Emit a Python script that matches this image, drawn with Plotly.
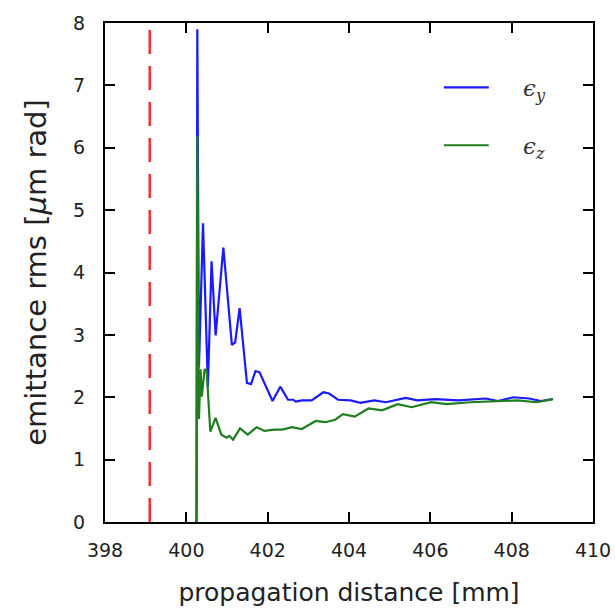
import plotly.graph_objects as go

# epsilon_y (blue)
ey_x = [400.25, 400.27, 400.31, 400.41, 400.53, 400.62, 400.72, 400.91, 401.12, 401.20, 401.31,
        401.49, 401.59, 401.70, 401.80, 402.12, 402.31, 402.50, 402.63, 402.69, 402.84, 403.08,
        403.37, 403.51, 403.73, 404.04, 404.28, 404.62, 404.91, 405.39, 405.68, 406.12, 406.69,
        407.37, 407.66, 408.04, 408.43, 408.72, 409.01]
ey_y = [0.0, 7.9, 2.48, 4.79, 2.17, 4.18, 2.99, 4.40, 2.84, 2.88, 3.43,
        2.23, 2.21, 2.42, 2.40, 1.94, 2.17, 1.96, 1.96, 1.93, 1.95, 1.95,
        2.08, 2.06, 1.96, 1.95, 1.91, 1.95, 1.92, 1.99, 1.95, 1.97, 1.95,
        1.98, 1.94, 2.00, 1.98, 1.94, 1.97]

# epsilon_z (green)
ez_x = [400.25, 400.27, 400.31, 400.35, 400.38, 400.45, 400.50, 400.59, 400.72, 400.86, 400.99,
        401.06, 401.15, 401.32, 401.51, 401.73, 401.92, 402.16, 402.36, 402.60, 402.84, 403.18,
        403.42, 403.66, 403.85, 404.14, 404.48, 404.81, 405.20, 405.54, 406.02, 406.40, 406.98,
        407.56, 408.14, 408.62, 409.01]
ez_y = [0.0, 6.19, 1.65, 2.45, 2.01, 2.45, 2.42, 1.45, 1.67, 1.40, 1.35,
        1.38, 1.32, 1.50, 1.40, 1.52, 1.46, 1.48, 1.48, 1.52, 1.49, 1.62,
        1.60, 1.64, 1.73, 1.69, 1.82, 1.79, 1.89, 1.84, 1.92, 1.89, 1.92,
        1.94, 1.95, 1.92, 1.97]

marker_x = 399.1
marker_y = [0, 8]

x_ticks = [398, 400, 402, 404, 406, 408, 410]
y_ticks = [0, 1, 2, 3, 4, 5, 6, 7, 8]

NB = "\u00a0"

fig = go.Figure()
fig.add_trace(go.Scatter(x=[marker_x, marker_x], y=marker_y, mode="lines",
                         line=dict(color="#f03030", width=2.5, dash="24px,12px"),
                         showlegend=False, hoverinfo="skip"))
fig.add_trace(go.Scatter(x=ey_x, y=ey_y, mode="lines", name=NB * 4 + "<i>ϵ<sub>y</sub></i>",
                         line=dict(color="#1a1aff", width=2.2), legendgroup="a"))
fig.add_trace(go.Scatter(x=ez_x, y=ez_y, mode="lines", name=NB * 4 + "<i>ϵ<sub>z</sub></i>",
                         line=dict(color="#1f7f1f", width=2.2), legendgroup="b"))

axis_common = dict(showline=True, linecolor="black", linewidth=2, mirror="ticks",
                   ticks="inside", ticklen=10, tickwidth=2, tickcolor="black",
                   showgrid=False, zeroline=False, automargin=False,
                   tickfont=dict(family="DejaVu Sans", size=19, color="#222"))

fig.update_layout(
    width=615, height=613,
    margin=dict(l=105, r=22, t=23, b=91),
    paper_bgcolor="white", plot_bgcolor="white",
    xaxis=dict(range=[398, 410], tickvals=x_ticks, ticktext=[str(v) for v in x_ticks],
               ticklabelstandoff=10,
               title=dict(text="propagation distance [mm]", standoff=24,
                          font=dict(family="DejaVu Sans", size=25, color="#222")),
               **axis_common),
    yaxis=dict(range=[0, 8], tickvals=y_ticks, ticktext=[str(v) for v in y_ticks],
               ticklabelstandoff=14,
               title=dict(text="emittance rms [<i>μ</i>m rad]", standoff=18,
                          font=dict(family="DejaVu Sans", size=29, color="#222")),
               **axis_common),
    legend=dict(x=0.684, y=0.914, xanchor="left", yanchor="top",
                bgcolor="rgba(0,0,0,0)", tracegroupgap=25, itemwidth=45,
                font=dict(family="DejaVu Serif", size=23, color="#333")),
    showlegend=True,
)

fig.write_html("out.html", config={"displayModeBar": False},
               post_script="document.body.style.margin='0px';")
